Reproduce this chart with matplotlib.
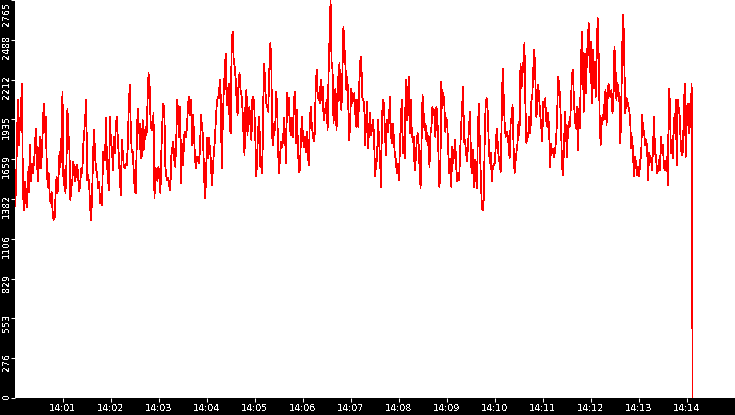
"""Red rate trace 14:00-14:14 on a white panel with black axis bands."""

import matplotlib
matplotlib.use('Agg')
import matplotlib.pyplot as plt
import matplotlib.dates as mdates
import numpy as np
import pandas as pd

BG = '#000000'
PANEL = '#ffffff'
LINE_COL = '#ff0000'
TEXT_COL = '#ffffff'

# time span of the trace and of the axis
START = '2024-01-01 14:00:00'
END = '2024-01-01 14:14:07'
X_MIN = '2024-01-01 14:00:00'
X_MAX = '2024-01-01 14:15:00'

Y_MAX = 2765
Y_TICK_LABELS = ['0', '276', '553', '829', '1106', '1382', '1659',
                 '1935', '2212', '2488', '2765']
X_TICK_LABELS = ['14:01', '14:02', '14:03', '14:04', '14:05', '14:06', '14:07',
                 '14:08', '14:09', '14:10', '14:11', '14:12', '14:13', '14:14']

# samples, left to right
SEG_1 = [1336, 1445, 1804, 2070, 1758, 1908, 2001, 2186, 1445, 1306, 1503, 1376,
         1329, 1572, 1433, 1758, 1503, 1630, 1561, 1630, 1711, 1873, 1723, 1503,
         1607, 1815, 1596, 1677, 1850, 2047, 1850, 1955, 1653, 1468, 1561, 1422,
         1352, 1434, 1294, 1237, 1248, 1410, 1538, 1422, 1538, 1711, 1607, 1827,
         2128, 1480, 1584, 1422, 1630, 2012, 1839, 1723, 1376, 1468, 1515, 1642,
         1561, 1503, 1607, 1619, 1515, 1434, 1503, 1596, 1561, 1758, 1839, 1955,
         2070, 1515, 1549, 1480, 1318, 1237, 1422, 1711, 1862, 1677, 1584, 1561,
         1457, 1503, 1352, 1399, 1341, 1711, 1677, 1653, 1943, 1630, 1515, 1445,
         1955, 1769, 1734, 1584, 1815, 1700, 1908, 1955, 1792, 1677, 1515, 1410,
         1792, 1700, 1607, 1596, 1630, 1619, 1746, 2024, 2174, 1885, 1711, 1711,
         1584, 1445, 1422, 1746, 2012, 1839, 1908, 1665, 1677, 1931, 1723, 1792,
         1885, 1827, 2070, 2256, 2186, 1931, 1862, 1862, 1978, 1387, 1596, 1584,
         1503, 1607, 1538, 1422, 1723, 1920, 2047, 1989, 1607, 1538, 1515, 1526,
         1468, 1445, 1677, 1734, 1781, 1653, 1607, 1792, 2070, 1978, 1815, 2024,
         1491, 1769, 1619, 1827, 1850, 1815, 1908, 2047, 2093, 1966, 2070, 1758,
         1966, 1827, 1653, 1596, 1677, 1677, 1630]
SEG_2 = [1630, 1723, 1966, 1885, 1827, 1584, 1387, 1491, 1804, 1665, 1804, 1734,
         1653, 1480, 1584, 1700, 1781, 1931, 2047, 2093, 2082, 2209, 2093, 1595,
         1897, 2128, 2267, 2394, 2035, 2093, 2186, 1885, 1839, 2464, 2545, 2360,
         2302, 2221, 2070, 1966, 2198, 2256, 2140, 2105, 2001, 1827, 1688, 2059,
         2140, 1827, 1978, 2024, 1897, 1792, 2082, 2093, 2001, 1792, 1538, 1723,
         1885, 1954, 1607, 1676, 1561, 2070, 2325, 2140, 2047, 2024, 1989, 2256,
         2464, 2383, 1815, 1758, 1908, 1862, 2128, 2024, 1711, 1561, 1688, 1781,
         1746, 1792, 1943, 1815, 1630, 2117, 1966, 2082, 1862, 1827, 1943, 1815,
         2070, 2128, 1769, 2001, 1746, 1572, 1584, 1792, 1954, 1827, 1746, 1815,
         1711, 1850, 1700, 1619, 1920, 2024, 1897, 1839, 1781]
SEG_3 = [1781, 1839, 2163, 2279, 2082, 2117, 2047, 2209, 2070, 2163, 1931, 2012,
         1978, 2070, 1862, 2256, 2499, 2765, 2337, 2279, 1908, 2093, 2151, 1862,
         2024, 2256, 2325, 2047, 2001, 2267, 2580, 2441, 2313, 2140, 2232, 2012,
         1792, 1978, 2151, 2047, 2093, 2117, 1978, 1885, 2070, 1885, 2174, 2337,
         2371, 2093, 2070, 2047, 1758, 1943, 2059, 1734, 1885, 1978, 1827, 1873,
         1931, 1815, 1538, 1630, 1653, 1931, 1792, 1665, 1468, 1954, 2070, 2047,
         1839, 1688, 1931, 1850, 1931, 2093, 1839, 1769, 1908, 1804, 1688, 1653,
         1561, 1630, 1514, 1723, 1920, 2070, 1700, 1815, 1665, 2209, 1931, 2024,
         2232, 1839, 2070, 1873, 1781, 1815, 1584, 1653, 1769, 1839, 1769, 1595,
         1457, 1769, 2105, 1978, 1862, 1908, 1781, 1839, 1746, 1607, 1839, 1885,
         2024, 1966, 2001, 1815]
SEG_4 = [1815, 2024, 1954, 1711, 1468, 1561, 2198, 2012, 2117, 2047, 1850, 1943,
         1908, 1711, 1561, 1665, 1468, 1746, 1630, 1711, 1792, 1607, 1503, 1561,
         1514, 1711, 1885, 2024, 2163, 1781, 1792, 1700, 1642, 1769, 1885, 1989,
         1630, 1561, 1723, 1468, 1653, 1538, 1457, 1885, 2047, 1723, 1514, 1318,
         1306, 1399, 1885, 2059, 2082, 1978, 1746, 1630, 1700, 1503, 1607, 1619,
         1630, 1758, 1873, 1769, 1665, 1630, 1572, 1954, 2290, 2105, 1908, 1815,
         1850, 1827, 1758, 1665, 1908, 1954, 2035, 1746, 1561, 1642, 1711, 1769,
         1920, 1827, 2325, 2151, 2244, 2337, 2464, 2024, 1769, 1839, 1815, 1954,
         1839, 2059, 2105, 2290, 2418, 2232, 1954, 2012, 2174, 2070, 1966, 1885,
         1781, 2059, 2024, 2082, 1931, 1885, 1978, 1850, 1607, 1769, 1700, 1734,
         1676, 1746]
SEG_5 = [1723, 1792, 1943, 2232, 2186, 2082, 1885, 1607, 1549, 1746, 1989, 1850,
         1676, 1873, 1920, 1885, 2047, 2244, 2279, 2070, 1943, 1873, 2024, 1723,
         2012, 1873, 2256, 2545, 2371, 1989, 2394, 2117, 2325, 2487, 2603, 2267,
         2476, 2047, 2418, 2151, 2337, 2093, 2371, 2638, 2394, 1966, 1758, 1897,
         1966, 1931, 2059, 2140, 1897, 2070, 2186, 2128, 2093, 2140, 1978, 2070,
         2441, 2302, 2070, 2186, 2140, 2059, 1769, 2093, 2476, 2661, 2302, 1978,
         2082, 2070, 2024, 2001, 1908, 1734, 1815, 1653, 1538, 1676, 1619, 1549,
         1607, 1538, 1653, 1676, 1966, 1862, 1850, 1758, 1792, 1746, 1514, 1700,
         1676, 1665, 1584, 1746, 1954, 1700, 1688, 1561, 1584, 1653, 1584, 1815,
         1700, 1758, 1607, 1584, 1619, 1676, 1480, 2151, 2059, 1700, 1792, 1665,
         1943, 1839, 2070, 1619, 2070, 2012, 1954, 1769, 1688, 1711, 1931, 2186,
         1676, 2001, 2047, 1839, 2047, 1885, 2186, 0]


def main():
    plt.rcParams['font.family'] = ['DejaVu Sans']
    plt.rcParams['text.antialiased'] = False

    values = np.array(SEG_1[:-1] + SEG_2[:-1] + SEG_3[:-1] + SEG_4[:-1] + SEG_5)
    times = pd.date_range(START, END, periods=len(values))

    fig = plt.figure(figsize=(7.35, 4.15), dpi=100, facecolor=BG)
    ax = fig.add_axes([15 / 735, 17 / 415, 720 / 735, 398 / 415])
    ax.set_facecolor(PANEL)
    for sp in ax.spines.values():
        sp.set_visible(False)

    ax.plot(times, values, color=LINE_COL, linewidth=0.55, antialiased=False)

    ax.set_xlim(pd.Timestamp(X_MIN), pd.Timestamp(X_MAX))
    ax.set_ylim(0, Y_MAX)

    # x axis: one tick per minute
    x_ticks = pd.date_range('2024-01-01 14:01:00', periods=len(X_TICK_LABELS),
                            freq='1min')
    ax.set_xticks(x_ticks)
    ax.xaxis.set_major_formatter(mdates.DateFormatter('%H:%M'))
    ax.set_xticklabels(X_TICK_LABELS)
    ax.tick_params(axis='x', direction='out', length=3, width=0.75,
                   colors=TEXT_COL, labelsize=6.8, pad=1.5)

    # y axis: ticks drawn by matplotlib, labels placed by hand (rotated)
    y_ticks = np.linspace(0, Y_MAX, len(Y_TICK_LABELS))
    ax.set_yticks(y_ticks)
    ax.set_yticklabels([])
    ax.tick_params(axis='y', direction='out', length=3, width=0.75,
                   colors=TEXT_COL)
    for i, (yv, lab) in enumerate(zip(y_ticks, Y_TICK_LABELS)):
        dy = 5 if i < len(y_ticks) - 1 else -2
        ax.annotate(lab, xy=(0, yv), xycoords=('axes fraction', 'data'),
                    xytext=(-4, dy), textcoords='offset pixels',
                    rotation=90, ha='right', va='top', color=TEXT_COL,
                    fontsize=6.8, annotation_clip=False)

    fig.savefig('out.png', dpi=100, facecolor=BG)
    plt.close(fig)


if __name__ == "__main__":
    main()
